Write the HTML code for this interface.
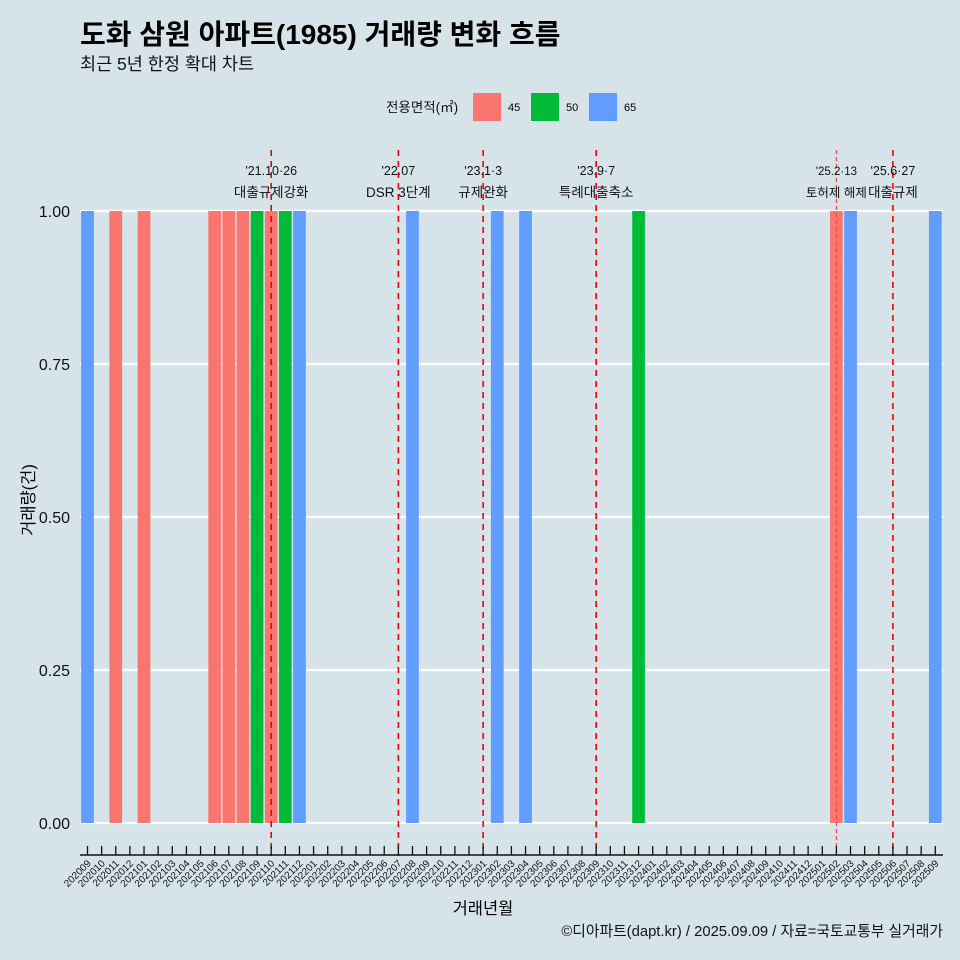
<!DOCTYPE html>
<html><head><meta charset="utf-8">
<style>
html,body{margin:0;padding:0;background:#d6e4ea;}
svg{display:block;font-family:"Liberation Sans","Noto Sans CJK KR",sans-serif;}
</style></head>
<body>
<svg id="chart" width="960" height="960" viewBox="0 0 960 960">
<rect x="0" y="0" width="960" height="960" fill="#d6e4ea"/>
<text x="80" y="44" font-size="28" font-weight="bold" fill="#000">도화 삼원 아파트(1985) 거래량 변화 흐름</text>
<text x="80" y="70" font-size="17.5" fill="#111">최근 5년 한정 확대 차트</text>
<g>
<text x="386" y="112" font-size="13.5" fill="#111">전용면적(㎡)</text>
<rect x="473" y="93" width="28" height="28" fill="#F8766D"/>
<text x="508" y="111" font-size="11">45</text>
<rect x="531" y="93" width="28" height="28" fill="#00BA38"/>
<text x="566" y="111" font-size="11">50</text>
<rect x="589" y="93" width="28" height="28" fill="#619CFF"/>
<text x="624" y="111" font-size="11">65</text>
</g>
<g id="plot"></g>
<text x="483" y="914" font-size="16.5" text-anchor="middle">거래년월</text>
<text transform="translate(34,500) rotate(-90)" font-size="16.5" text-anchor="middle">거래량(건)</text>
<text x="943" y="936" font-size="14.8" text-anchor="end" fill="#111">©디아파트(dapt.kr) / 2025.09.09 / 자료=국토교통부 실거래가</text>
</svg>
<script>
const months = [];
for (let y = 2020, m = 9; !(y === 2025 && m === 10); ) { months.push(String(y) + String(m).padStart(2, '0')); m++; if (m > 12) { m = 1; y++; } }
const barMonths = ['202009','202011','202101','202106','202107','202108','202109','202110','202111','202112','202208','202302','202304','202312','202502','202503','202509'];
const barAreas  = ['65','45','45','45','45','45','50','45','50','65','65','65','65','50','45','65','65'];
const barValues = [1,1,1,1,1,1,1,1,1,1,1,1,1,1,1,1,1];
const yTicks = [0, 0.25, 0.5, 0.75, 1];
const yTickLabels = ['0.00','0.25','0.50','0.75','1.00'];
const eventMonths = ['202110','202207','202301','202309','202502','202506'];
const eventLine1 = ["'21.10·26","'22.07","'23.1·3","'23.9·7","'25.2·13","'25.6·27"];
const eventLine2 = ['대출규제강화','DSR 3단계','규제완화','특례대출축소','토허제 해제','대출규제'];

const colors = {'45':'#F8766D','50':'#00BA38','65':'#619CFF'};
const NS = 'http://www.w3.org/2000/svg';
const plot = document.getElementById('plot');
const x0 = 87.5, step = 14.13;
const xScale = m => x0 + months.indexOf(m) * step;
const yScale = v => 823 - v * 612;
function el(tag, attrs, parent) { const e = document.createElementNS(NS, tag); for (const k in attrs) e.setAttribute(k, attrs[k]); (parent || plot).appendChild(e); return e; }

yTicks.forEach((t, i) => {
  const g = el('line', {x1: 80, x2: 943, y1: yScale(t), y2: yScale(t), stroke: '#fff', 'stroke-width': 2.2});
  
  
  const tx = el('text', {x: 70, y: yScale(t) + 6, 'font-size': 16, 'text-anchor': 'end', fill: '#111'});
  tx.textContent = yTickLabels[i];
  
  
});

barMonths.forEach((m, i) => {
  const w = step * 0.9;
  const r = el('rect', {x: xScale(m) - w / 2, y: yScale(barValues[i]), width: w, height: yScale(0) - yScale(barValues[i]), fill: colors[barAreas[i]]});
  
  
});

eventMonths.forEach((m, i) => {
  const x = xScale(m);
  const small = m === '202502';
  const l = el('line', {x1: x, x2: x, y1: 150, y2: 856, stroke: small ? '#f44' : '#e00', 'stroke-width': small ? 1.2 : 1.6, 'stroke-dasharray': small ? '4,3' : '6,5'});
  
  
  const fs = small ? 11.5 : 12.5;
  const t1 = el('text', {x: x, y: 175, 'font-size': fs, 'text-anchor': 'middle', fill: '#111'});
  t1.textContent = eventLine1[i];
  
  
  const t2 = el('text', {x: x, y: 197, 'font-size': fs + 1, 'text-anchor': 'middle', fill: '#111'});
  t2.textContent = eventLine2[i];
  
  
});

const ax = el('line', {x1: 80, x2: 943, y1: 855, y2: 855, stroke: '#111', 'stroke-width': 1.5});


months.forEach(m => {
  const x = xScale(m);
  const tk = el('line', {x1: x, x2: x, y1: 846, y2: 855, stroke: '#111', 'stroke-width': 1.3});
  
  
  const lb = el('text', {x: x + 4, y: 864, 'font-size': 10, 'text-anchor': 'end', fill: '#111', transform: 'rotate(-45 ' + (x + 4) + ' 864)'});
  lb.textContent = m;
  
  
});
</script>
</body></html>
